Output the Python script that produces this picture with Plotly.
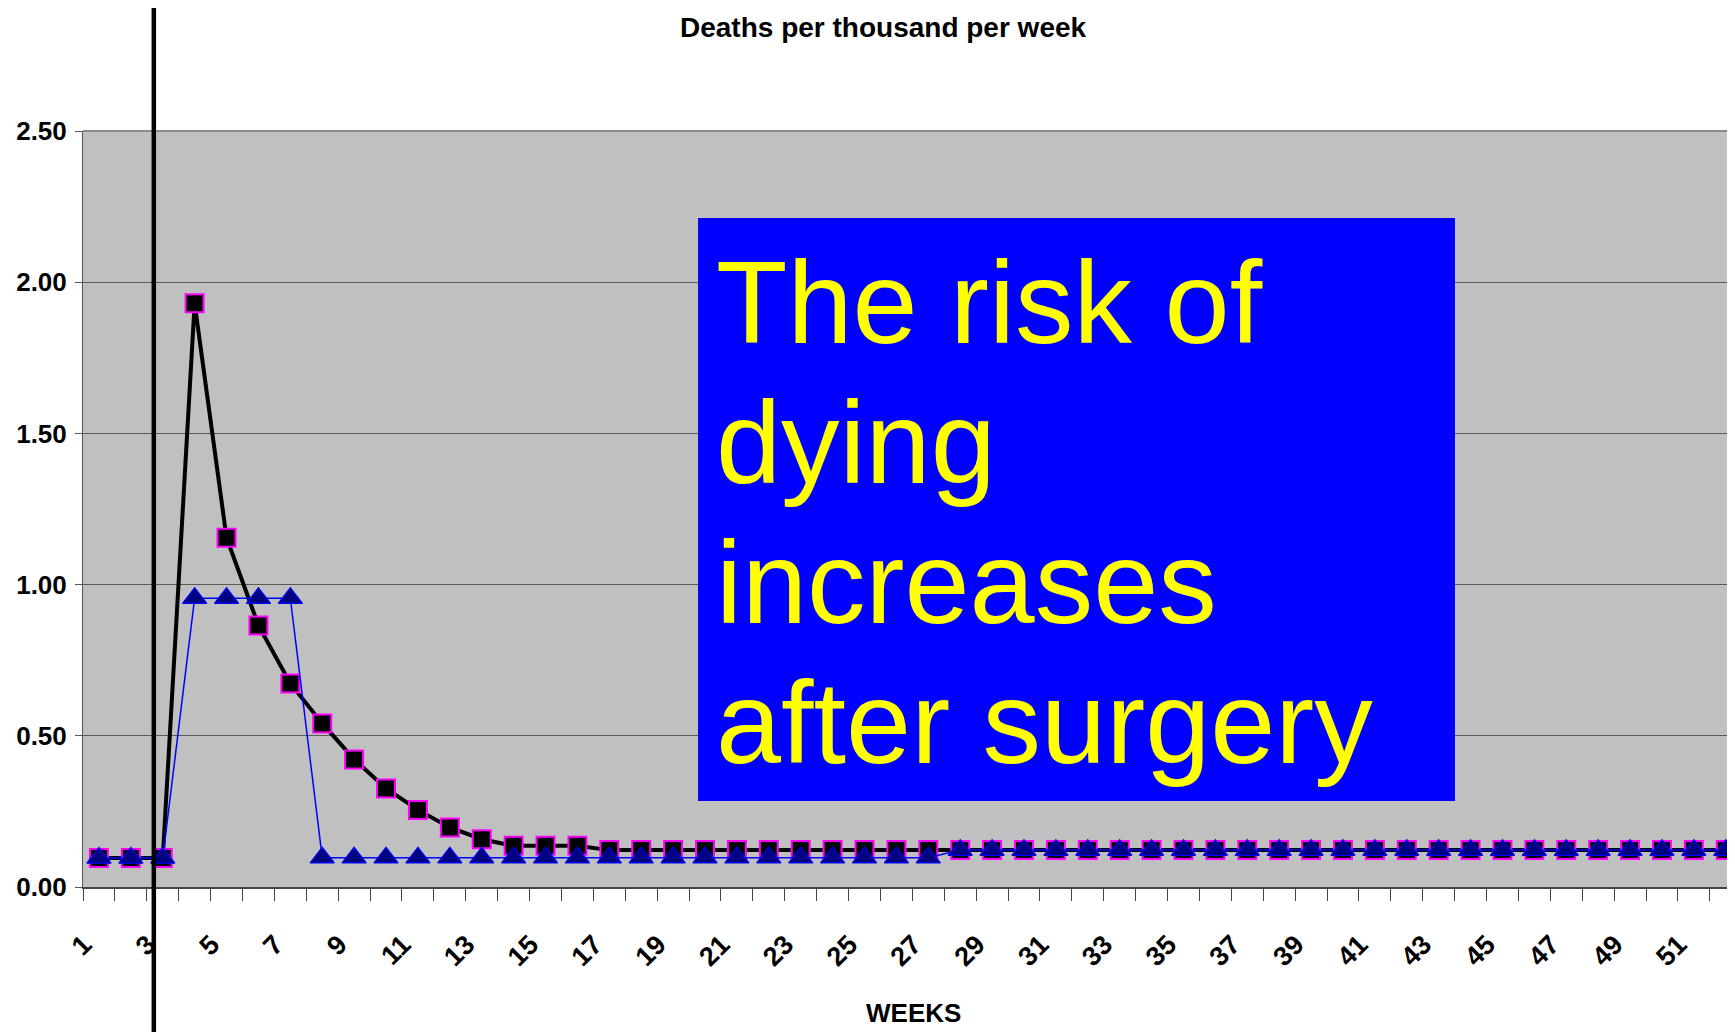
import plotly.graph_objects as go

weeks = list(range(1, 53))
after_surgery = [0.096, 0.096, 0.096, 1.93, 1.155, 0.865, 0.673, 0.541, 0.422, 0.326,
                 0.255, 0.197, 0.158, 0.136, 0.136, 0.136, 0.122] + [0.122] * 35
baseline_risk = [0.096, 0.096, 0.096, 0.955, 0.955, 0.955, 0.955] + [0.097] * 20 + [0.122] * 25
y_ticks = [0.0, 0.5, 1.0, 1.5, 2.0, 2.5]
x_tick_weeks = list(range(1, 52, 2))
surgery_x = 2.72
box_lines = ["The risk of", "dying", "increases", "after surgery"]

X_LO, X_HI = 0.5, 52.29
def xp(v):
    return (v - X_LO) / (X_HI - X_LO)

FONT = "Liberation Sans, Arial, sans-serif"

fig = go.Figure()
fig.add_trace(go.Scatter(
    x=weeks, y=after_surgery, mode="lines+markers",
    line=dict(color="black", width=4),
    marker=dict(symbol="square", size=18, color="black",
                line=dict(color="#FF00FF", width=2)),
    showlegend=False))
fig.add_trace(go.Scatter(
    x=weeks, y=baseline_risk, mode="lines+markers",
    line=dict(color="#0000FF", width=1.5),
    marker=dict(symbol="triangle-up", size=21, color="#000080",
                line=dict(color="#0000FF", width=1.2)),
    showlegend=False))

# the page body has an 8px default margin: figure is sized to end at the window edge
fig.update_layout(
    width=1727, height=1024,
    margin=dict(l=75, r=0, t=123, b=145),
    paper_bgcolor="white", plot_bgcolor="#C0C0C0",
    showlegend=False,
    xaxis=dict(range=[X_LO, X_HI], tickmode="array", tickvals=x_tick_weeks,
               ticktext=[str(w) for w in x_tick_weeks], tickangle=-45,
               ticks="outside", ticklen=0, tickcolor="#444",
               ticklabelstandoff=29, ticklabelshift=-15,
               tickfont=dict(family=FONT, size=27, color="black", weight="bold"),
               minor=dict(tickmode="linear", tick0=0.5, dtick=1, ticks="outside",
                          ticklen=12, tickcolor="#444", tickwidth=1, showgrid=False),
               showgrid=False, zeroline=False,
               showline=True, linecolor="#444", linewidth=2),
    yaxis=dict(range=[0, 2.5], tickmode="array", tickvals=y_ticks,
               tickformat=".2f", ticks="outside", ticklen=7, tickcolor="#555",
               ticklabelstandoff=3,
               tickfont=dict(family=FONT, size=26, color="black", weight="bold"),
               showgrid=True, gridcolor="#5a5a5a", gridwidth=1.4,
               zeroline=False, showline=True, linecolor="#555", linewidth=1),
)

# top border of plot area
fig.add_shape(type="line", xref="paper", yref="paper", x0=0, x1=1, y0=1, y1=1,
              line=dict(color="#8a8a8a", width=2), layer="below")

# blue text box
fig.add_shape(type="rect", xref="paper", yref="paper",
              x0=0.3723, x1=0.8305, y0=0.1138, y1=0.8849,
              fillcolor="#0000FF", line=dict(width=0), layer="above")
for txt, yy in zip(box_lines, [0.7737, 0.5878, 0.4024, 0.2172]):
    fig.add_annotation(text=txt, xref="paper", yref="paper", x=0.3832, y=yy,
                       xanchor="left", yanchor="middle", showarrow=False,
                       borderpad=0, borderwidth=0,
                       font=dict(family=FONT, size=117, color="#FFFF00"))

# surgery marker line
fig.add_shape(type="line", xref="paper", yref="paper",
              x0=xp(surgery_x), x1=xp(surgery_x), y0=-0.25, y1=1.25,
              line=dict(color="black", width=4.5), layer="above")

# titles
fig.add_annotation(text="Deaths per thousand per week", xref="paper", yref="paper",
                   x=0.4843, y=1.1368, xanchor="center", yanchor="middle",
                   showarrow=False,
                   font=dict(family=FONT, size=28, color="black", weight="bold"))
fig.add_annotation(text="WEEKS", xref="paper", yref="paper",
                   x=0.503, y=-0.1661, xanchor="center", yanchor="middle",
                   showarrow=False,
                   font=dict(family=FONT, size=26, color="black", weight="bold"))

fig.write_html("out.html")
